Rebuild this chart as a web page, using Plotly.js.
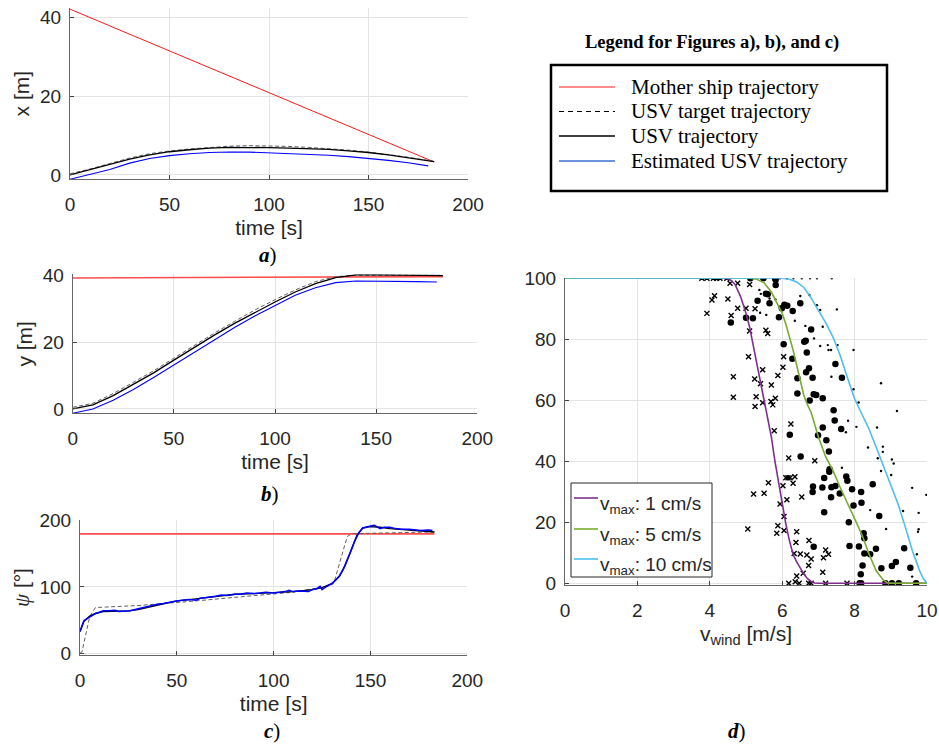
<!DOCTYPE html>
<html>
<head>
<meta charset="utf-8">
<script src="https://cdn.plot.ly/plotly-3.0.1.min.js"></script>
<style>html,body{margin:0;padding:0;background:#fff;}#chart{width:939px;height:745px;}</style>
</head>
<body>
<div id="chart"></div>
<script>
// ---------- Figure a) x position ----------
const motherTA = [0, 183];
const motherXA = [42.1, 3.3];
const tA = [0,10,20,30,40,50,60,70,80,90,100,110,120,130,140,150,160,170,183];
const targetXA = [0.3,1.5,2.9,4.3,5.4,6.1,6.6,7.0,7.3,7.45,7.4,7.25,7.0,6.7,6.3,5.8,5.2,4.5,3.4];
const usvXA    = [0,1.3,2.7,4.0,5.1,5.9,6.4,6.8,7.0,7.05,6.95,6.8,6.6,6.5,6.1,5.7,5.1,4.4,3.4];
const tEstA = [0,10,20,30,40,50,60,70,80,90,100,110,120,130,140,150,160,170,180];
const estXA = [-1.1,0.1,1.4,3.0,4.2,4.9,5.4,5.7,5.85,5.8,5.6,5.45,5.25,5.0,4.65,4.2,3.7,3.1,2.3];

// ---------- Figure b) y position ----------
const motherTB = [0, 183];
const motherYB = [39.2, 39.6];
const tB = [0,10,20,30,40,50,60,70,80,90,100,110,120,130,140,150,160,170,183];
const targetYB = [0.5,1.7,4.6,7.9,11.4,15.2,19.0,22.7,26.2,29.6,32.7,35.6,38.1,39.6,40.0,40.0,40.0,40.0,40.0];
const usvYB    = [0,1.2,4.0,7.3,10.8,14.6,18.4,22.1,25.6,28.9,32.0,35.0,37.5,39.3,40.1,40.1,40.0,39.9,39.9];
const tEstB = [0,10,20,30,40,50,60,70,80,90,100,110,120,130,140,150,160,170,180];
const estYB = [-1.3,0,2.6,5.8,9.4,13.2,17.0,20.8,24.4,27.8,31.0,34.0,36.3,37.8,38.3,38.3,38.2,38.1,38.0];

// ---------- Figure c) heading ----------
const motherTC = [0, 183];
const motherPsiC = [180, 180];
const tTargetC = [0,1,5,8,30,50,60,90,100,110,120,125,128,131,134,136,138,140,150,183];
const targetPsiC = [0,2,55,69,72,76,79,87,90,92,97,99,101,105,136,158,176,180,181,183];
const tUsvC = [0,2,5,8,12,20,25,30,40,50,60,70,80,90,100,110,120,125,130,134,137,140,143,146,150,155,160,170,180,183];
const usvPsiC = [33,48,56,60,63,63,64,66,73,79,82,86,89,90,91,93,96,99,105,116,133,155,178,189,191,190,188,186,184,183];
const tEstC = [0,1,2,4,6,8,10,12,15,18,20,23,26,30,33,36,40,43,46,50,53,56,60,62,65,68,70,73,76,80,83,86,90,93,96,100,103,106,108,110,113,116,118,120,122,124,125,127,130,132,134,136,138,140,142,144,146,148,150,152,154,155,157,160,163,166,170,173,176,180,182];
const estPsiC = [33,42,49,53,57,60,62,64,64,65,63,64,64,67,69,72,74,75,77,79,80,81,80,83,84,85,86,88,87,89,89,91,90,91,92,91,92,93,95,93,94,94,93,96,97,101,96,100,105,110,117,127,140,155,170,182,189,191,192,193,190,188,190,190,188,187,187,186,185,186,185];

// ---------- Figure d) success rate vs wind ----------
const vwind1 = [0,4.4,4.55,4.7,4.85,5.0,5.1,5.2,5.3,5.4,5.5,5.6,5.7,5.8,5.9,6.0,6.1,6.2,6.3,6.4,6.5,6.6,6.7,6.8,6.9,7.0,10];
const rate1  = [100,100,99.7,98,94,88.5,84,78,72,66,60,54,48,40,33,26.5,19.5,14,9.5,7,5,3,1.5,0.6,0.1,0,0];
const vwind5 = [0,5.1,5.3,5.5,5.7,5.9,6.0,6.1,6.2,6.3,6.4,6.5,6.6,6.7,6.8,6.9,7.0,7.2,7.4,7.6,7.8,8.0,8.2,8.4,8.5,8.6,8.7,8.8,8.9,9.0,10];
const rate5  = [100,100,99.7,98.5,95.5,91,88.5,85,81,76.5,71.5,66,61.5,58.5,56,52,48,41.5,37,31.5,26.5,21.5,16,9.5,6.5,4,2.5,1,0.2,0,0];
const vwind10 = [0,6.0,6.2,6.4,6.6,6.8,7.0,7.2,7.4,7.6,7.8,8.0,8.2,8.4,8.6,8.8,9.0,9.2,9.4,9.6,9.8,9.9,10];
const rate10  = [100,100,99.7,98.8,97,93.5,89.5,85.5,80.8,74.8,67.5,60.5,55.5,50.5,44.5,38.5,32.5,26,18.5,10.5,4,1.5,0];

// measured runs: [v_wind, success %]
const runs1 = [[3.78,100],[3.92,100],[4.10,100],[4.19,100],[4.28,100],[4.47,100],[3.92,88.5],[4.06,92.9],[4.13,94.3],[4.50,93.2],[4.59,87.8],[4.56,98.4],[4.77,98.4],[4.77,90.2],[5.00,90.2],[5.10,98],[5.25,90],[5.10,82.7],[5.55,83],[5.60,81.9],[5.07,74.3],[4.65,67.7],[5.24,67],[5.46,70],[5.40,65.4],[5.70,65],[5.88,68.1],[4.65,61],[5.28,61.2],[5.25,58],[5.46,59.2],[5.69,59.6],[5.74,58.5],[5.81,60.7],[5.78,50],[6.04,74.3],[6.02,70.8],[6.24,52.2],[6.18,41.1],[6.90,40.2],[6.10,34.6],[6.16,34.6],[6.22,34.6],[6.35,34.9],[6.30,32.8],[6.02,32],[5.62,33],[5.21,29.3],[5.50,29.5],[6.13,27.4],[6.54,28.3],[5.94,26],[6.05,21.9],[5.05,17.8],[5.88,18.9],[5.85,16.4],[6.05,17.3],[6.40,16.9],[6.38,13.4],[6.74,14],[6.33,9.8],[6.50,9.6],[6.68,9.3],[6.80,8],[6.73,5.8],[6.58,3.3],[6.40,2.4],[7.14,8.4],[7.20,10.9],[7.28,9.5],[7.12,3.6],[6.18,0],[6.36,0.5],[6.47,0],[6.73,0],[6.80,0],[7.20,0],[7.79,0]];
const runs5 = [[5.12,100],[5.48,100],[5.80,100],[4.58,85.5],[5.00,87.1],[5.19,86.9],[5.32,92.6],[5.55,94.9],[5.60,94.8],[5.65,91.8],[5.82,97.8],[5.82,99.5],[5.91,87.2],[5.99,90.2],[6.06,91.3],[6.14,91],[6.29,89.3],[6.50,91.8],[6.04,78.4],[6.28,73.6],[6.61,79.2],[6.65,79.5],[6.68,75.7],[6.80,83.2],[6.42,67.2],[6.42,62.2],[6.66,69.2],[6.74,70.5],[6.84,67.4],[6.76,59.9],[6.87,62],[6.94,61.7],[7.12,60.7],[6.21,48.7],[6.51,41.6],[6.99,48.5],[7.12,51.1],[7.22,46.9],[7.29,43.2],[7.42,56.7],[7.45,53.4],[7.63,50.6],[7.47,71.9],[7.65,67.4],[6.85,31.7],[6.84,29.9],[7.11,31.4],[7.16,34.5],[7.30,36.6],[7.31,37.4],[7.36,31.5],[7.35,28.2],[7.47,31.9],[7.59,29.4],[7.77,35],[7.80,33.6],[7.93,30.8],[8.18,29.9],[8.19,26.4],[8.50,32.5],[7.97,25.5],[7.84,20],[7.16,23.3],[6.87,12],[7.86,12.2],[8.12,12.1],[8.25,16.4],[8.27,14.8],[8.27,9.8],[8.43,9.5],[8.59,11.3],[8.22,5.8],[8.68,22.1],[8.74,4.9],[8.17,3],[8.14,0],[8.18,0],[8.85,0],[9.03,0],[9.22,0],[9.70,0],[9.03,5.7],[9.14,7],[9.37,11.5],[9.54,5.1]];
const runs10 = [[5.94,100],[6.13,100],[6.31,100],[6.54,100],[6.77,100],[6.96,100],[7.37,100],[5.37,96.2],[5.41,94.9],[5.65,93.4],[5.94,90.7],[5.56,88],[5.39,88.7],[5.81,93.1],[6.5,94.2],[6.75,94.5],[6.96,91.2],[7.05,89.6],[7.51,89.8],[6.35,86.1],[6.64,84.4],[7.12,84.1],[6.88,80.3],[7.05,77.8],[7.26,78.1],[7.28,76.5],[7.35,76.5],[7.53,78.1],[7.97,76.5],[7.36,67.7],[7.97,63.6],[8.73,65.6],[8.11,59.3],[9.17,56.5],[7.82,53.3],[8.05,51.3],[8.62,51.1],[7.76,49.5],[8.37,44.5],[8.78,44.8],[8.78,43.1],[8.64,41],[9.03,40.6],[9.08,39.3],[7.65,37.9],[8.73,36.8],[9.01,35.5],[9.59,31.3],[9.98,29],[8.43,24],[9.34,23.7],[9.77,23.1],[8.87,17.8],[9.77,17.7],[9.75,16.9],[9.72,9.5],[9.59,2.2]];

const legendTitle = 'Legend for Figures a), b), and c)';
const legendNames = ['Mother ship trajectory','USV target trajectory','USV trajectory','Estimated USV trajectory'];
const dLegendNames = ['v<sub>max</sub>: 1 cm/s','v<sub>max</sub>: 5 cm/s','v<sub>max</sub>: 10 cm/s'];

// ---------- styles ----------
const RED = '#ff1a1a', RED2 = '#ff4d4d', BLUE = '#0000ff', BLK = '#000000', DASH = '#606060';
const PURPLE = '#7E2F8E', GREEN = '#77AC30', LBLUE = '#4DBEEE';
const SANS = 'Liberation Sans, Arial, sans-serif';
const SERIF = 'Liberation Serif, Times New Roman, serif';
const DASHPAT = '4px,2.5px';

function line(x, y, xa, ya, color, width, dash, name){
  return {x:x, y:y, xaxis:xa, yaxis:ya, type:'scatter', mode:'lines', name:name||'',
    showlegend:false, hoverinfo:'skip', line:{color:color, width:width, dash:dash||'solid'}};
}
const traces = [
  // a
  line(motherTA, motherXA, 'x', 'y', RED, 1, 'solid', legendNames[0]),
  line(tA, targetXA, 'x', 'y', DASH, 1, DASHPAT, legendNames[1]),
  line(tA, usvXA, 'x', 'y', BLK, 1.3, 'solid', legendNames[2]),
  line(tEstA, estXA, 'x', 'y', BLUE, 1.1, 'solid', legendNames[3]),
  // b
  line(motherTB, motherYB, 'x2', 'y2', RED2, 1.6, 'solid', legendNames[0]),
  line(tB, targetYB, 'x2', 'y2', DASH, 1, DASHPAT, legendNames[1]),
  line(tB, usvYB, 'x2', 'y2', BLK, 1.3, 'solid', legendNames[2]),
  line(tEstB, estYB, 'x2', 'y2', BLUE, 1.1, 'solid', legendNames[3]),
  // c
  line(motherTC, motherPsiC, 'x3', 'y3', RED2, 1.6, 'solid', legendNames[0]),
  line(tTargetC, targetPsiC, 'x3', 'y3', DASH, 1, DASHPAT, legendNames[1]),
  line(tUsvC, usvPsiC, 'x3', 'y3', BLK, 1.4, 'solid', legendNames[2]),
  line(tEstC, estPsiC, 'x3', 'y3', BLUE, 1.5, 'solid', legendNames[3]),
];
// d scatter clouds
traces.push({x:runs1.map(p=>p[0]), y:runs1.map(p=>p[1]), xaxis:'x4', yaxis:'y4', type:'scatter', mode:'markers', showlegend:false, hoverinfo:'skip',
  marker:{symbol:'x-thin-open', size:5, color:'#000', line:{color:'#000', width:1.4}}});
traces.push({x:runs5.map(p=>p[0]), y:runs5.map(p=>p[1]), xaxis:'x4', yaxis:'y4', type:'scatter', mode:'markers', showlegend:false, hoverinfo:'skip',
  marker:{symbol:'circle', size:6.5, color:'#000'}});
traces.push({x:runs10.map(p=>p[0]), y:runs10.map(p=>p[1]), xaxis:'x4', yaxis:'y4', type:'scatter', mode:'markers', showlegend:false, hoverinfo:'skip',
  marker:{symbol:'circle', size:2.4, color:'#000'}});
[[vwind1,rate1,PURPLE],[vwind5,rate5,GREEN],[vwind10,rate10,LBLUE]].forEach((c,i)=>{
  traces.push({x:c[0], y:c[1], xaxis:'x4', yaxis:'y4', type:'scatter', mode:'lines', name:dLegendNames[i],
    showlegend:false, hoverinfo:'skip', line:{color:c[2], width:1.6}});
});

const W = 939, H = 745;
const px = v => v / W, py = v => 1 - v / H;
const tickFont = {family:SANS, size:19, color:'#262626'};
const titleFont = {family:SANS, size:21, color:'#262626'};
function ax(domain, range, dtick, extra){
  return Object.assign({domain:domain, range:range, dtick:dtick, tick0:0, showgrid:true, gridcolor:'#e3e3e3', gridwidth:1,
    zeroline:false, showline:true, linecolor:'#666666', linewidth:1, ticks:'inside', ticklen:4, tickcolor:'#444',
    tickfont:tickFont, automargin:false, fixedrange:true}, extra||{});
}

// legend boxes drawn as paper shapes + real text annotations
const shapes = [
  {type:'rect', xref:'paper', yref:'paper', x0:px(551), x1:px(887), y0:py(191), y1:py(65), line:{color:'#000', width:2.5}},
  {type:'rect', xref:'paper', yref:'paper', x0:px(571), x1:px(712), y0:py(577), y1:py(483), fillcolor:'#fff', line:{color:'#262626', width:1}, layer:'above'}
];
const annotations = [
  {xref:'paper', yref:'paper', x:px(712), y:py(43), text:'<b>' + legendTitle + '</b>', showarrow:false,
    font:{family:SERIF, size:18.5, color:'#000'}, xanchor:'center', yanchor:'middle'},
];
const legSamples = [[RED,'solid',1.2],['#000','5px,4px',1],['#000','solid',1.3],['#3c6fd1','solid',1.3]];
const legRowsY = [87, 111.5, 136, 161];
legendNames.forEach((nm,i)=>{
  shapes.push({type:'line', xref:'paper', yref:'paper', x0:px(559), x1:px(615), y0:py(legRowsY[i]), y1:py(legRowsY[i]),
    line:{color:legSamples[i][0], dash:legSamples[i][1], width:legSamples[i][2]}});
  annotations.push({xref:'paper', yref:'paper', x:px(629), y:py(legRowsY[i]), text:nm, showarrow:false,
    xanchor:'left', yanchor:'middle', font:{family:SERIF, size:21, color:'#000'}});
});
const dRowsY = [498, 529, 559];
[PURPLE, GREEN, LBLUE].forEach((col,i)=>{
  shapes.push({type:'line', xref:'paper', yref:'paper', x0:px(574), x1:px(598), y0:py(dRowsY[i]), y1:py(dRowsY[i]),
    line:{color:col, width:1.6}, layer:'above'});
  annotations.push({xref:'paper', yref:'paper', x:px(598), y:py(dRowsY[i]-7), text:dLegendNames[i], showarrow:false,
    xanchor:'left', yanchor:'top', font:{family:SANS, size:19, color:'#262626'}});
});
[['a',268,255],['b',270,494],['c',272,731],['d',737,731]].forEach(c=>{
  annotations.push({xref:'paper', yref:'paper', x:px(c[1]), y:py(c[2]), text:'<b><i>'+c[0]+'</i></b>)', showarrow:false,
    xanchor:'center', yanchor:'middle', font:{family:SERIF, size:21, color:'#000'}});
});

const layout = {
  width:W, height:H, margin:{l:0,r:0,t:0,b:0}, paper_bgcolor:'#fff', plot_bgcolor:'#fff',
  showlegend:false,
  xaxis:  ax([px(70),px(468)], [0,200], 50, {anchor:'y', ticklabelstandoff:8, title:{text:'time [s]', font:titleFont, standoff:6}}),
  yaxis:  ax([py(179.3),py(8)], [-1.1,42.4], 20, {anchor:'x', ticklabelstandoff:4, title:{text:'x [m]', font:titleFont, standoff:4}}),
  xaxis2: ax([px(72.7),px(477.3)], [0,200], 50, {anchor:'y2', ticklabelstandoff:8, title:{text:'time [s]', font:titleFont, standoff:6}}),
  yaxis2: ax([py(413.3),py(274.3)], [-1.3,40.3], 20, {anchor:'x2', ticklabelstandoff:4, title:{text:'y [m]', font:titleFont, standoff:4}}),
  xaxis3: ax([px(80),px(467.3)], [0,200], 50, {anchor:'y3', ticklabelstandoff:8, title:{text:'time [s]', font:titleFont, standoff:6}}),
  yaxis3: ax([py(655),py(520)], [-2.6,201], 100, {anchor:'x3', ticklabelstandoff:4,
    title:{text:'<span style="font-family:Liberation Serif"><i>ψ</i></span> [°]', font:titleFont, standoff:4}}),
  xaxis4: ax([px(565),px(927)], [0,10], 2, {anchor:'y4', ticklabelstandoff:8, title:{text:'v<sub>wind</sub> [m/s]', font:titleFont, standoff:6}}),
  yaxis4: ax([py(585),py(278.3)], [-0.56,100], 20, {anchor:'x4', ticklabelstandoff:4}),
  shapes: shapes,
  annotations: annotations
};
Plotly.newPlot('chart', traces, layout, {staticPlot:true, displayModeBar:false});
</script>
</body>
</html>
